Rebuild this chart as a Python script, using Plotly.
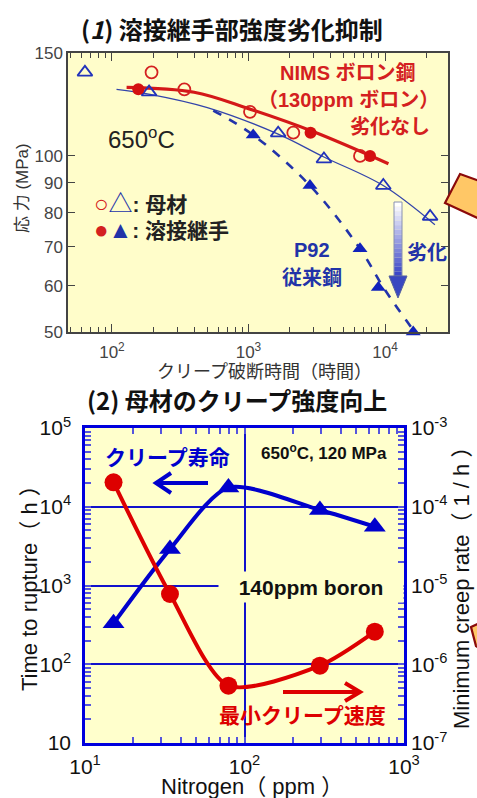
import plotly.graph_objects as go

W, H = 477, 798

# ---------------- (1) creep rupture, 650 C ----------------
nims_base_t = [195, 339, 1026, 2130, 6560]
nims_base_s = [139, 130, 119, 109.6, 100]
nims_weld_t = [156, 2850, 7770]
nims_weld_s = [130, 109.6, 100]
p92_base_t = [63.4, 187, 1650, 3570, 9720, 21400]
p92_base_s = [139, 128.6, 109.4, 98.8, 89, 78.8]
p92_weld_t = [1083, 2820, 6560, 8930, 16100]
p92_weld_s = [108.6, 89, 69.4, 59.6, 50]

nims_fit_t = [128, 400, 1000, 3000, 10600]
nims_fit_s = [131, 128.5, 120.5, 110, 97]
p92_base_fit_t = [108, 190, 500, 1650, 3600, 9700, 23200]
p92_base_fit_s = [130, 127.5, 121, 109, 99.5, 89, 76.3]
p92_weld_fit_t = [552, 1083, 2820, 6560, 10000, 16500]
p92_weld_fit_s = [119.6, 108.6, 89, 69.4, 59.0, 50]

top_y_ticks = [50, 60, 70, 80, 90, 100, 150]
top_x_ticks = [100, 1000, 10000]
top_x_ticktext = ["10<sup>2</sup>", "10<sup>3</sup>", "10<sup>4</sup>"]

# ---------------- (2) nitrogen effect ----------------
nitrogen = [15.1, 34.1, 79.3, 297, 656]
rupture_time = [331, 2900, 17500, 9100, 5580]
creep_rate = [2.04e-4, 7.8e-6, 5.35e-7, 9.6e-7, 2.59e-6]

bot_x_ticks = [10, 100, 1000]
bot_x_ticktext = ["10<sup>1</sup>", "10<sup>2</sup>", "10<sup>3</sup>"]
bot_yl_ticks = [10, 100, 1000, 10000, 100000]
bot_yl_ticktext = ["10", "10<sup>2</sup>", "10<sup>3</sup>", "10<sup>4</sup>", "10<sup>5</sup>"]
bot_yr_ticks = [1e-7, 1e-6, 1e-5, 1e-4, 1e-3]
bot_yr_ticktext = ["10<sup>-7</sup>", "10<sup>-6</sup>", "10<sup>-5</sup>", "10<sup>-4</sup>", "10<sup>-3</sup>"]

LAT = "Liberation Sans, Arial, Noto Sans CJK JP"
JP = "Noto Sans CJK JP, Liberation Sans"

RED_T = "#d42020"
BLUE_T = "#2233a8"
RED_B = "#dd0000"
BLUE_B = "#0000cc"

def px(x):
    return x / W

def py(y):
    return 1 - y / H

fig = go.Figure()

# top chart traces
fig.add_trace(go.Scatter(x=p92_base_fit_t, y=p92_base_fit_s, mode="lines",
                         line=dict(color="#3344aa", width=1.3, shape="spline"),
                         xaxis="x", yaxis="y", showlegend=False))
fig.add_trace(go.Scatter(x=p92_weld_fit_t, y=p92_weld_fit_s, mode="lines",
                         line=dict(color="#2233aa", width=2.6, dash="dash", shape="spline"),
                         xaxis="x", yaxis="y", showlegend=False))
fig.add_trace(go.Scatter(x=nims_fit_t, y=nims_fit_s, mode="lines",
                         line=dict(color="#d41818", width=3.2, shape="spline"),
                         xaxis="x", yaxis="y", showlegend=False))
fig.add_trace(go.Scatter(x=p92_base_t, y=p92_base_s, mode="markers",
                         marker=dict(symbol="triangle-up-open", size=13, color="#2233bb",
                                     line=dict(width=1.8, color="#2233bb")),
                         xaxis="x", yaxis="y", showlegend=False))
fig.add_trace(go.Scatter(x=p92_weld_t, y=p92_weld_s, mode="markers",
                         marker=dict(symbol="triangle-up", size=13, color="#1122bb"),
                         xaxis="x", yaxis="y", showlegend=False, cliponaxis=False))
fig.add_trace(go.Scatter(x=nims_base_t, y=nims_base_s, mode="markers",
                         marker=dict(symbol="circle-open", size=12, color="#d42020",
                                     line=dict(width=1.8, color="#d42020")),
                         xaxis="x", yaxis="y", showlegend=False))
fig.add_trace(go.Scatter(x=nims_weld_t, y=nims_weld_s, mode="markers",
                         marker=dict(symbol="circle", size=12, color="#d41010"),
                         xaxis="x", yaxis="y", showlegend=False))

# bottom chart traces
fig.add_trace(go.Scatter(x=nitrogen, y=rupture_time, mode="lines+markers",
                         line=dict(color=BLUE_B, width=4, shape="spline", smoothing=0.75),
                         marker=dict(symbol="triangle-up", size=19, color=BLUE_B),
                         xaxis="x2", yaxis="y2", showlegend=False))
fig.add_trace(go.Scatter(x=nitrogen, y=creep_rate, mode="lines+markers",
                         line=dict(color=RED_B, width=4, shape="spline", smoothing=0.75),
                         marker=dict(symbol="circle", size=18, color=RED_B),
                         xaxis="x2", yaxis="y3", showlegend=False))

minor_top_x = [50, 60, 70, 80, 90, 200, 300, 400, 500, 600, 700, 800, 900,
               2000, 3000, 4000, 5000, 6000, 7000, 8000, 9000, 20000]
minor_bot_x = [20, 30, 40, 50, 60, 70, 80, 90, 200, 300, 400, 500, 600, 700, 800, 900]
minor_left = [m * 10 ** d for d in range(1, 5) for m in range(2, 10)]
minor_right = [m * 10.0 ** d for d in range(-7, -3) for m in range(2, 10)]

fig.update_layout(
    width=W, height=H,
    margin=dict(l=0, r=0, t=0, b=0, autoexpand=False),
    paper_bgcolor="white",
    plot_bgcolor="#fffdca",
    showlegend=False,
    xaxis=dict(type="log", range=[1.678, 4.4615], domain=[px(68), px(448)], anchor="y",
               automargin=False,
               showline=True, linecolor="#444", linewidth=1.5, mirror="allticks",
               ticks="inside", ticklen=8, tickwidth=1.3, tickcolor="#444",
               tickvals=top_x_ticks, ticktext=top_x_ticktext, ticklabelstandoff=4,
               tickfont=dict(family=LAT, size=17, color="#444"),
               minor=dict(ticks="inside", ticklen=5, tickwidth=1.2, tickcolor="#444",
                          tickvals=minor_top_x, showgrid=False),
               showgrid=False, zeroline=False),
    yaxis=dict(type="log", range=[1.69897, 2.176091], domain=[py(332), py(53)], anchor="x",
               automargin=False,
               showline=True, linecolor="#444", linewidth=1.5, mirror="allticks",
               ticks="inside", ticklen=7, tickwidth=1.3, tickcolor="#444",
               tickvals=top_y_ticks, ticktext=[str(v) for v in top_y_ticks],
               tickfont=dict(family=LAT, size=17, color="#444"),
               showgrid=False, zeroline=False),
    xaxis2=dict(type="log", range=[1, 3], domain=[px(85), px(404)], anchor="y2",
                automargin=False,
                showline=True, linecolor="#0000dd", linewidth=2.5, mirror="allticks",
                ticks="inside", ticklen=6, tickwidth=1.5, tickcolor="#5555dd",
                tickvals=bot_x_ticks, ticktext=bot_x_ticktext, ticklabelstandoff=3,
                tickfont=dict(family=LAT, size=21, color="#111"),
                minor=dict(ticks="inside", ticklen=6, tickwidth=1.5, tickcolor="#5555dd",
                           tickvals=minor_bot_x, showgrid=False),
                showgrid=True, gridcolor="#1111cc", gridwidth=1.5, zeroline=False),
    yaxis2=dict(type="log", range=[1, 5], domain=[py(743), py(428)], anchor="x2",
                automargin=False,
                showline=True, linecolor="#0000dd", linewidth=2.5, mirror=True,
                ticks="inside", ticklen=6, tickwidth=1.5, tickcolor="#5555dd",
                tickvals=bot_yl_ticks, ticktext=bot_yl_ticktext, ticklabelstandoff=7,
                tickfont=dict(family=LAT, size=21, color="#111"),
                minor=dict(ticks="inside", ticklen=6, tickwidth=1.5, tickcolor="#5555dd",
                           tickvals=minor_left, showgrid=False),
                showgrid=True, gridcolor="#1111cc", gridwidth=1.5, zeroline=False),
    yaxis3=dict(type="log", range=[-7, -3], overlaying="y2", side="right", anchor="x2",
                automargin=False,
                showline=False,
                ticks="inside", ticklen=6, tickwidth=1.5, tickcolor="#5555dd",
                tickvals=bot_yr_ticks, ticktext=bot_yr_ticktext, ticklabelstandoff=6,
                tickfont=dict(family=LAT, size=21, color="#111"),
                minor=dict(ticks="inside", ticklen=6, tickwidth=1.5, tickcolor="#5555dd",
                           tickvals=minor_right, showgrid=False),
                showgrid=False, zeroline=False),
)

shapes = []
shapes.append(dict(type="rect", xref="paper", yref="paper", layer="below",
                   x0=px(85), x1=px(404), y0=py(743), y1=py(428),
                   fillcolor="#ffffcc", line=dict(width=0)))

def path(points, close=False):
    s = "M " + " L ".join(f"{px(x):.5f},{py(y):.5f}" for x, y in points)
    return s + (" Z" if close else "")

# orange decorative boxes on the right edge
shapes.append(dict(type="path", xref="paper", yref="paper",
                   path=path([(460, 174), (482, 182), (482, 220), (445, 203)], True),
                   fillcolor="#ffc766", line=dict(color="#8b0a0a", width=2.2)))
shapes.append(dict(type="path", xref="paper", yref="paper",
                   path=path([(471, 627), (482, 622), (482, 650), (476, 646)], True),
                   fillcolor="#ffc766", line=dict(color="#8b0a0a", width=2.2)))

# gradient arrow "劣化"
n = 16
y0, y1 = 202, 276
for i in range(n):
    t = i / (n - 1)
    r = int(255 + (60 - 255) * t)
    g = int(255 + (72 - 255) * t)
    b = int(255 + (200 - 255) * t)
    ya = y0 + (y1 - y0) * i / n
    yb = y0 + (y1 - y0) * (i + 1) / n
    shapes.append(dict(type="rect", xref="paper", yref="paper",
                       x0=px(394), x1=px(402), y0=py(yb), y1=py(ya),
                       fillcolor=f"rgb({r},{g},{b})", line=dict(width=0)))
shapes.append(dict(type="rect", xref="paper", yref="paper",
                   x0=px(394), x1=px(402), y0=py(y1), y1=py(y0),
                   fillcolor="rgba(0,0,0,0)", line=dict(color="#8890b0", width=1)))
shapes.append(dict(type="path", xref="paper", yref="paper",
                   path=path([(389, 276), (407, 276), (398, 298)], True),
                   fillcolor="#3a48c0", line=dict(color="#5560a0", width=1)))

# bottom arrows
shapes.append(dict(type="path", xref="paper", yref="paper",
                   path=path([(208, 483), (157, 483)]), line=dict(color=BLUE_B, width=4)))
shapes.append(dict(type="path", xref="paper", yref="paper",
                   path=path([(171, 473), (156, 483), (171, 493)]), line=dict(color=BLUE_B, width=4)))
shapes.append(dict(type="path", xref="paper", yref="paper",
                   path=path([(283, 692), (358, 692)]), line=dict(color=RED_B, width=4)))
shapes.append(dict(type="path", xref="paper", yref="paper",
                   path=path([(345, 683), (360, 692), (345, 701)]), line=dict(color=RED_B, width=4)))

fig.update_layout(shapes=shapes)

ann = []

def text(x, y, s, size, color="#111", family=JP, angle=0, **kw):
    d = dict(x=px(x), y=py(y), xref="paper", yref="paper", text=s, showarrow=False,
             font=dict(family=family, size=size, color=color), textangle=angle,
             xanchor="center", yanchor="middle")
    d.update(kw)
    ann.append(d)

# titles
text(232, 29, "<b>(<i>1</i>) 溶接継手部強度劣化抑制</b>", 24, "#111")
text(237, 399, "<b>(2) 母材のクリープ強度向上</b>", 24, "#111")

# top chart labels
text(22, 188, "応 力 (MPa)", 17, "#333", family=LAT, angle=-90)
text(264, 372, "クリープ破断時間（時間）", 18, "#333", family=LAT)
text(141, 138, "650<sup>o</sup>C", 24, "#222", family=LAT)
text(348, 73, "<b>NIMS ボロン鋼</b>", 20, RED_T, family=LAT)
text(348, 100, "<b>（130ppm ボロン）</b>", 20, RED_T, family=LAT)
text(390, 127, "<b>劣化なし</b>", 20, RED_T, family=LAT)
text(92, 203, f"<span style='color:{RED_T};font-size:24px'>○</span><span style='color:{BLUE_T};font-size:24px'>△</span><b>: 母材</b>",
     21, "#222", family=LAT, xanchor="left")
text(92, 229, f"<span style='color:{RED_T};font-size:24px'>●</span><span style='color:{BLUE_T};font-size:24px'>▲</span><b>: 溶接継手</b>",
     21, "#222", family=LAT, xanchor="left")
text(312, 250, "<b>P92</b>", 20, BLUE_T, family=LAT)
text(312, 278, "<b>従来鋼</b>", 20, BLUE_T, family=LAT)
text(427, 253, "<b>劣化</b>", 20, BLUE_T, family=LAT)

# bottom chart labels
text(29, 583, "Time to rupture（ h ）", 22, "#111", family=LAT, angle=-90)
text(461, 583, "Minimum creep rate（ 1 / h ）", 22, "#111", family=LAT, angle=-90)
text(252, 786, "Nitrogen（ ppm ）", 22, "#111", family=LAT)
text(324, 452, "<b>650<sup>o</sup>C, 120 MPa</b>", 17, "#111", family=LAT)
text(311, 587, "<b>140ppm boron</b>", 21, "#111", family=LAT,
     bgcolor="#ffffcc", width=182, height=28)
text(167, 457, "<b>クリープ寿命</b>", 21, BLUE_B, family=LAT)
text(302, 715, "<b>最小クリープ速度</b>", 21, RED_B, family=LAT)

fig.update_layout(annotations=ann)

fig.write_html("out.html")
